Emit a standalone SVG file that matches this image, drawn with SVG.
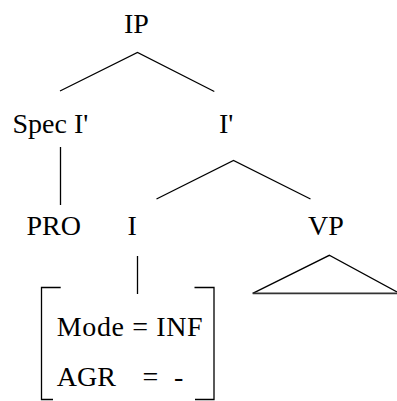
<svg xmlns="http://www.w3.org/2000/svg" width="397" height="401" viewBox="0 0 397 401">
<style>
text{font-family:"Liberation Serif","Times New Roman",serif;font-size:28px;fill:#000}
.e{stroke:#000;stroke-width:1.3;fill:none;stroke-linecap:butt}
</style>
<rect width="397" height="401" fill="#fff"/>
<g id="connectors">
<polyline class="e" points="60,91 137.5,52.5 214.3,91.5"/>
<polyline class="e" points="156.5,199 233.5,160.5 310.5,199"/>
<line class="e" x1="60.5" y1="147" x2="60.5" y2="205"/>
<line class="e" x1="137.5" y1="256" x2="137.5" y2="294"/>
</g>
<g id="n-IP"><text x="124" y="33">IP</text></g>
<g id="n-Spec"><text x="12.5" y="133">Spec I'</text></g>
<g id="n-Ibar"><text x="219" y="133">I'</text></g>
<g id="n-PRO"><text x="26.5" y="235">PRO</text></g>
<g id="n-I"><text x="127.5" y="235">I</text></g>
<g id="n-VP"><text x="308" y="235">VP</text>
<polyline class="e" points="252.7,293.3 329.3,255.3 397,292"/>
<line x1="252.7" y1="293.3" x2="397" y2="293.3" stroke="#333" stroke-width="1.8"/>
</g>
<g id="n-features">
<polyline class="e" points="60.7,287.5 41.5,287.5 41.5,399.5 53,399.5"/>
<polyline class="e" points="194.5,287.5 214,287.5 214,399.5 195,399.5"/>
<text x="56.7" y="335.7" textLength="146">Mode = INF</text>
<text x="56.7" y="385.7">AGR</text>
<text x="142.5" y="385.7">=</text>
<text x="174" y="385.7">-</text>
</g>
</svg>
